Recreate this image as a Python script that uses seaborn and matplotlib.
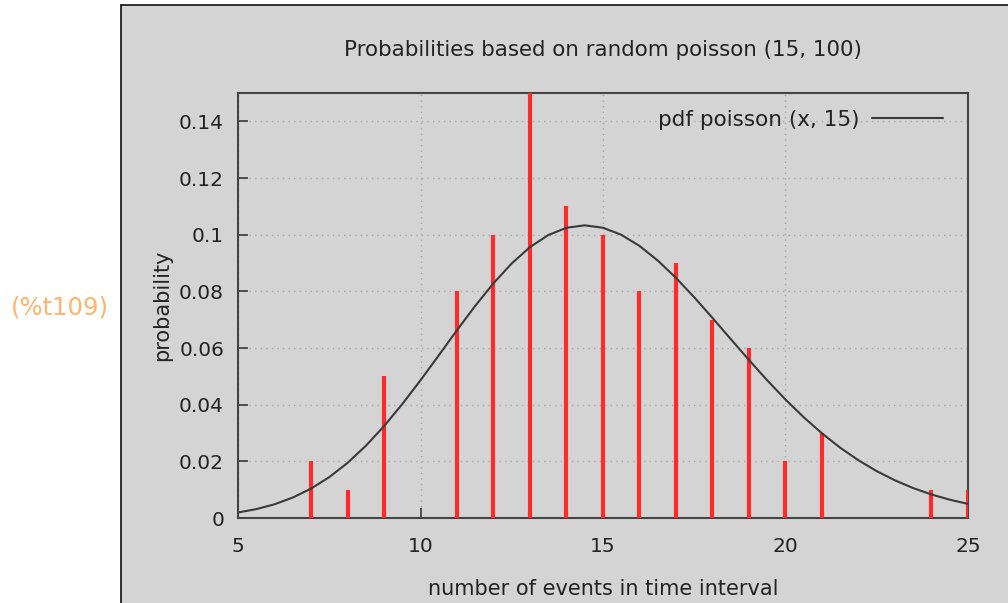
import numpy as np
import pandas as pd
import matplotlib
matplotlib.use("Agg")
import matplotlib.pyplot as plt
import seaborn as sns
from matplotlib.patches import Rectangle

# Observed relative frequencies (impulses)
events = [7, 8, 9, 11, 12, 13, 14, 15, 16, 17, 18, 19, 20, 21, 24, 25]
probs = [0.02, 0.01, 0.05, 0.08, 0.10, 0.16, 0.11, 0.10, 0.08, 0.09, 0.07, 0.06, 0.02, 0.03, 0.01, 0.01]

# pdf poisson(x, 15) curve, read at half-unit steps
curve_x = [5, 5.5, 6, 6.5, 7, 7.5, 8, 8.5, 9, 9.5, 10, 10.5, 11, 11.5, 12, 12.5, 13, 13.5,
           14, 14.5, 15, 15.5, 16, 16.5, 17, 17.5, 18, 18.5, 19, 19.5, 20, 20.5, 21, 21.5,
           22, 22.5, 23, 23.5, 24, 24.5, 25]
curve_y = [0.00194, 0.00313, 0.00484, 0.00721, 0.01037, 0.01442, 0.01944, 0.02545, 0.03241,
           0.04019, 0.04861, 0.05741, 0.06629, 0.07488, 0.08286, 0.08986, 0.09561, 0.09985,
           0.10244, 0.10329, 0.10244, 0.09996, 0.09603, 0.09087, 0.08474, 0.07789, 0.07061,
           0.06315, 0.05575, 0.04858, 0.04181, 0.03555, 0.02987, 0.02480, 0.02036, 0.01653,
           0.01328, 0.01055, 0.00830, 0.00646, 0.00498]

title = "Probabilities based on random poisson (15, 100)"
xlabel = "number of events in time interval"
ylabel = "probability"
legend_label = "pdf poisson (x, 15)"
xticks = [5, 10, 15, 20, 25]
yticks = [0, 0.02, 0.04, 0.06, 0.08, 0.1, 0.12, 0.14]
ytick_labels = ["0", "0.02", "0.04", "0.06", "0.08", "0.1", "0.12", "0.14"]

sns.set_theme(style="white")
plt.rcParams['font.family'] = ['DejaVu Sans']

panel_color = "#d4d4d4"
text_color = "#222222"
W, H = 1008, 603
fig = plt.figure(figsize=(W / 100, H / 100), dpi=100)
fig.patch.set_facecolor("white")

# grey panel
fig.patches.append(Rectangle((121 / W, 0), 1 - 121 / W, (H - 5) / H, transform=fig.transFigure,
                             facecolor=panel_color, edgecolor="none", zorder=-10))
fig.lines.append(plt.Line2D([121 / W, 121 / W], [0, (H - 5) / H], transform=fig.transFigure,
                            color="#111111", lw=1.2, zorder=-5))
fig.lines.append(plt.Line2D([121 / W, 1], [(H - 5) / H, (H - 5) / H], transform=fig.transFigure,
                            color="#111111", lw=1.2, zorder=-5))

ax = fig.add_axes([238 / W, (H - 518) / H, (968 - 238) / W, (518 - 93) / H])
ax.set_zorder(2)
ax.set_facecolor(panel_color)

ax.vlines(events, 0, probs, colors="#ff2a2a", linewidth=3.0, zorder=3)
df = pd.DataFrame({"x": curve_x, "y": curve_y})
sns.lineplot(data=df, x="x", y="y", ax=ax, color="#3a3a3a", linewidth=1.5,
             label=legend_label, zorder=4)

ax.set_xlim(5, 25)
ax.set_ylim(0, 0.15)
ax.set_xticks(xticks)
ax.set_yticks(yticks)
ax.set_yticklabels(ytick_labels)
ax.grid(True, color="#a8a8a8", linestyle=(0, (1, 3)), linewidth=1.0)
ax.set_axisbelow(True)
for s in ax.spines.values():
    s.set_color("#444444")
    s.set_linewidth(1.5)
ax.tick_params(axis="both", direction="in", length=7, width=1.3, color="#444444",
               labelsize=14.5, labelcolor=text_color, left=True, bottom=True)
ax.tick_params(axis="y", pad=10)
ax.tick_params(axis="x", pad=14)

ax.set_xlabel(xlabel, fontsize=15, color=text_color, labelpad=16)
ax.set_ylabel(ylabel, fontsize=15, color=text_color, labelpad=5)
fig.text(603 / W, 1 - 50 / H, title, ha="center", va="center", fontsize=15.4, color=text_color)

leg = ax.legend(loc="upper right", bbox_to_anchor=(1.0, 1.0 + 8 / 425), frameon=False,
                markerfirst=False, fontsize=15.5, handlelength=3.3, handletextpad=0.6,
                borderaxespad=0.75, labelcolor=text_color)

fig.text(60 / W, 1 - 307 / H, "(%t109)", ha="center", va="center", fontsize=17.5, color="#ffb36e")

fig.savefig("out.png", dpi=100, facecolor="white")
